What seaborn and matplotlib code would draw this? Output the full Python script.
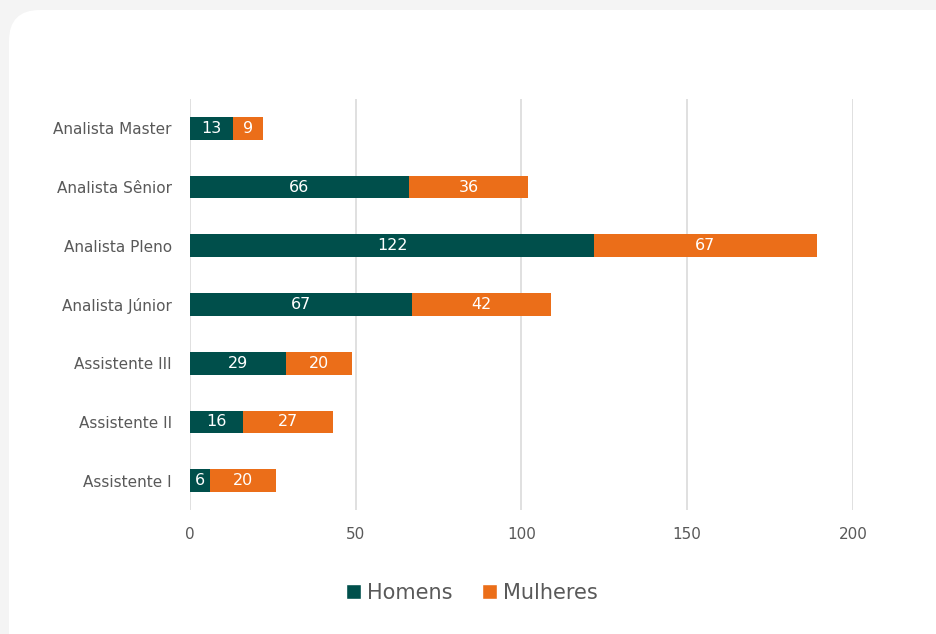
import matplotlib
matplotlib.use("Agg")
import matplotlib.pyplot as plt
from matplotlib.patches import FancyBboxPatch, Patch
import seaborn as sns
import pandas as pd

categorias = ["Analista Master", "Analista Sênior", "Analista Pleno", "Analista Júnior",
              "Assistente III", "Assistente II", "Assistente I"]
homens = [13, 66, 122, 67, 29, 16, 6]
mulheres = [9, 36, 67, 42, 20, 27, 20]
x_ticks = [0, 50, 100, 150, 200]

teal = "#004F4B"
orange = "#EB6E19"
gray = "#595959"

sns.set_theme(style="white")
plt.rcParams['font.family'] = ['DejaVu Sans']

df = pd.DataFrame({"cat": categorias, "Homens": homens, "Mulheres": mulheres})
df["Total"] = df["Homens"] + df["Mulheres"]

fig = plt.figure(figsize=(9.37, 6.34), dpi=100)
fig.patch.set_facecolor("#F4F4F4")
card = FancyBboxPatch((9 / 937, -0.2), 1.2, (634 - 10) / 634 + 0.2,
                      boxstyle="round,pad=0,rounding_size=0.033",
                      transform=fig.transFigure, facecolor="white", edgecolor="none",
                      mutation_aspect=937 / 634, zorder=-10)
fig.patches.append(card)

ax = fig.add_axes([190 / 937, 1 - 510 / 634, (853 - 190) / 937, (510 - 99) / 634])
ax.set_facecolor("none")

sns.barplot(data=df, x="Total", y="cat", color=orange, width=0.385, ax=ax,
            saturation=1, orient="h", zorder=3, linewidth=0)
sns.barplot(data=df, x="Homens", y="cat", color=teal, width=0.385, ax=ax,
            saturation=1, orient="h", zorder=3, linewidth=0)

ax.bar_label(ax.containers[1], labels=[str(v) for v in homens], label_type="center",
             color="white", fontsize=11.5)
bars_total = ax.containers[0]
for bar, h, m in zip(bars_total, homens, mulheres):
    y = bar.get_y() + bar.get_height() / 2
    ax.text(h + m / 2, y, str(m), ha="center", va="center", color="white", fontsize=11.5, zorder=5)

ax.set_xlim(0, 200)
ax.set_ylim(6.5, -0.5)
ax.set_xticks(x_ticks)
ax.set_xticklabels([str(t) for t in x_ticks])
ax.xaxis.grid(True, color="#DDDDDD", linewidth=1.3, zorder=0)
ax.set_axisbelow(True)
for s in ax.spines.values():
    s.set_visible(False)
ax.set_xlabel("")
ax.set_ylabel("")
ax.tick_params(axis="x", colors=gray, labelsize=11, length=0, pad=12)
ax.tick_params(axis="y", colors=gray, labelsize=11, length=0, pad=13)

handles = [Patch(facecolor=teal, label="Homens"), Patch(facecolor=orange, label="Mulheres")]
fig.legend(handles=handles, loc="center", bbox_to_anchor=(472 / 937, 1 - 593 / 634),
           ncol=2, frameon=False, fontsize=15, labelcolor=gray, handlelength=0.7,
           handleheight=0.7, handletextpad=0.3, columnspacing=1.4)

fig.savefig("out.png", dpi=100, facecolor=fig.get_facecolor())
